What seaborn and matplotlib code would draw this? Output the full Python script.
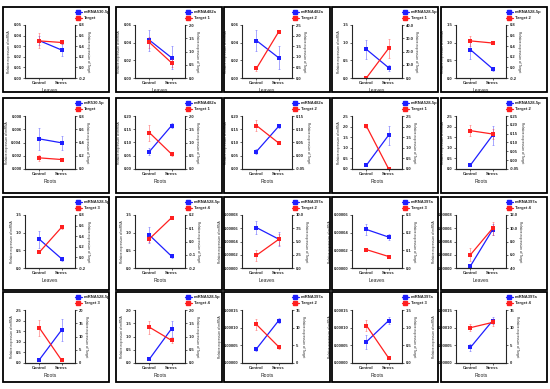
import matplotlib
matplotlib.use("Agg")
import matplotlib.pyplot as plt
from matplotlib.patches import Rectangle
from matplotlib.lines import Line2D
import pandas as pd
import seaborn as sns

sns.set_style("ticks")
plt.rcParams['font.family'] = ['Liberation Sans', 'DejaVu Sans']
plt.rcParams['font.weight'] = 'bold'

W, H = 550, 389
blue = '#1f1fff'
red = '#ff2020'
groups = ["Control", "Stress"]

mirnas = ["miRNA530-5p", "miRNA482a", "miRNA482a", "miRNA528-5p", "miRNA528-5p",
          "miR530-5p", "miRNA482a", "miRNA482a", "miRNA528-5p", "miRNA528-5p",
          "miRNA528-5p", "miRNA528-5p", "miRNA397a", "miRNA397a", "miRNA397a",
          "miRNA528-5p", "miRNA528-5p", "miRNA397a", "miRNA397a", "miRNA397a"]
targets = ["Target", "Target 1", "Target 2", "Target 1", "Target 2",
           "Target", "Target 1", "Target 2", "Target 1", "Target 2",
           "Target 3", "Target 4", "Target 2", "Target 3", "Target 4",
           "Target 3", "Target 4", "Target 2", "Target 3", "Target 4"]
tissues = (["Leaves"] * 5 + ["Roots"] * 5
           + ["Leaves", "Roots", "Leaves", "Leaves", "Leaves"] + ["Roots"] * 5)

left_ticks = [
    ["0.00", "0.01", "0.02", "0.03", "0.04", "0.05"],
    ["0.00", "0.02", "0.04", "0.06"],
    ["0.00", "0.02", "0.04", "0.06"],
    ["0.0", "0.5", "1.0", "1.5"],
    ["0.0", "0.5", "1.0", "1.5"],
    ["0.000", "0.002", "0.004", "0.006", "0.008"],
    ["0.00", "0.05", "0.10", "0.15", "0.20"],
    ["0.00", "0.05", "0.10", "0.15", "0.20"],
    ["0.0", "0.5", "1.0", "1.5", "2.0", "2.5"],
    ["0.0", "0.5", "1.0", "1.5", "2.0", "2.5"],
    ["0.0", "0.5", "1.0", "1.5"],
    ["0.0", "0.5", "1.0", "1.5"],
    ["0.00000", "0.00002", "0.00004", "0.00006", "0.00008"],
    ["0.00000", "0.00002", "0.00004", "0.00006"],
    ["0.00000", "0.00002", "0.00004", "0.00006", "0.00008"],
    ["0.0", "0.5", "1.0", "1.5", "2.0", "2.5"],
    ["0.0", "0.5", "1.0", "1.5", "2.0"],
    ["0.00000", "0.00005", "0.00010", "0.00015"],
    ["0.00000", "0.00005", "0.00010", "0.00015"],
    ["0.00000", "0.00005", "0.00010", "0.00015"],
]
right_ticks = [
    ["-0.2", "0.0", "0.2", "0.4", "0.6", "0.8"],
    ["0.0", "0.5", "1.0", "1.5", "2.0"],
    ["0.0", "0.5", "1.0", "1.5", "2.0", "2.5"],
    ["0.0", "10.0", "20.0", "30.0", "40.0"],
    ["-0.2", "0.0", "0.2", "0.4", "0.6", "0.8"],
    ["0.0", "0.2", "0.4", "0.6", "0.8"],
    ["0.0", "0.5", "1.0", "1.5", "2.0"],
    ["-0.05", "0.00", "0.05", "0.10", "0.15"],
    ["0.0", "0.5", "1.0", "1.5", "2.0", "2.5"],
    ["-0.05", "0.00", "0.05", "0.10", "0.15", "0.20", "0.25"],
    ["-0.2", "0.0", "0.2", "0.4", "0.6", "0.8"],
    ["-0.2", "-0.1", "0.0", "0.1", "0.2"],
    ["0.0", "2.5", "5.0", "7.5", "10.0"],
    ["0.0", "0.1", "0.2", "0.3"],
    ["4.0", "6.0", "8.0", "10.0", "12.0"],
    ["0", "5", "10", "15", "20"],
    ["0.0", "0.5", "1.0", "1.5", "2.0"],
    ["0", "5", "10", "15"],
    ["0.0", "0.5", "1.0", "1.5"],
    ["0", "5", "10", "15"],
]

mir_mean = [[0.0352, 0.0264], [0.0428, 0.0229], [0.0424, 0.0229], [0.81, 0.29], [0.80, 0.26],
            [0.00454, 0.00395], [0.066, 0.164], [0.066, 0.161], [0.18, 1.6], [0.185, 1.6],
            [0.81, 0.26], [0.93, 0.33], [0.000061, 0.0000436], [0.0000436, 0.000035], [0.000003, 0.000058],
            [0.16, 1.56], [0.15, 1.3], [0.00004, 0.00012], [0.00006, 0.00012], [0.000044, 0.00012]]
mir_err = [[0.004, 0.006], [0.012, 0.013], [0.012, 0.013], [0.27, 0.08], [0.25, 0.05],
           [0.0016, 0.0011], [0.015, 0.008], [0.01, 0.008], [0.02, 0.45], [0.02, 0.45],
           [0.25, 0.05], [0.22, 0.05], [0.00001, 0.00001], [0.000006, 0.000003], [0.000003, 0.000008],
           [0.02, 0.5], [0.02, 0.3], [0.000005, 0.000008], [0.00002, 0.00001], [0.00001, 0.00001]]
tar_mean = [[0.50, 0.47], [1.34, 0.57], [0.45, 2.18], [0.1, 22.4], [0.50, 0.46],
            [0.168, 0.143], [1.37, 0.56], [0.114, 0.048], [2.02, 0.0], [0.167, 0.148],
            [0.10, 0.57], [0.02, 0.18], [2.4, 5.4], [0.104, 0.065], [6.0, 10.0],
            [13.2, 1.0], [1.35, 0.85], [10.9, 4.6], [1.06, 0.14], [10.0, 11.5]]
tar_err = [[0.14, 0.02], [0.2, 0.15], [0.1, 0.05], [0.2, 7.0], [0.1, 0.02],
           [0.04, 0.02], [0.3, 0.08], [0.02, 0.005], [0.08, 0.02], [0.03, 0.03],
           [0.02, 0.04], [0.02, 0.01], [1.0, 1.0], [0.01, 0.005], [1.0, 1.0],
           [3.0, 0.4], [0.25, 0.1], [1.5, 0.5], [0.15, 0.03], [1.0, 1.0]]

box_x = [3, 116, 224, 332, 441]
box_w = 106
box_y = [7, 98, 197, 292]
box_h = [85, 95, 93, 90]
ax_off = [22, 19, 18, 20, 15]

fig = plt.figure(figsize=(5.5, 3.89), dpi=100)
fig.patch.set_facecolor('white')

for i in range(20):
    r, c = divmod(i, 5)
    bx, by, bh = box_x[c], box_y[r], box_h[r]
    fig.add_artist(Rectangle((bx / W, 1 - (by + bh) / H), box_w / W, bh / H,
                             transform=fig.transFigure, fill=False, lw=1.3, ec='black'))

    ax = fig.add_axes([(bx + ax_off[c]) / W, 1 - (by + 18 + 53) / H, 50 / W, 53 / H])
    ax2 = ax.twinx()

    df = pd.DataFrame({'grp': [0, 1], 'mir': mir_mean[i], 'tar': tar_mean[i]})

    sns.lineplot(data=df, x='grp', y='mir', ax=ax, color=blue, marker='s',
                 markersize=2.5, markeredgewidth=0, lw=0.9, legend=False)
    ax.errorbar([0, 1], mir_mean[i], yerr=mir_err[i], fmt='none', ecolor=blue,
                alpha=0.45, elinewidth=0.6, capsize=1, capthick=0.5)
    sns.lineplot(data=df, x='grp', y='tar', ax=ax2, color=red, marker='s',
                 markersize=2.5, markeredgewidth=0, lw=0.9, legend=False)
    ax2.errorbar([0, 1], tar_mean[i], yerr=tar_err[i], fmt='none', ecolor=red,
                 alpha=0.45, elinewidth=0.6, capsize=1, capthick=0.5)

    lt = [float(t) for t in left_ticks[i]]
    rt = [float(t) for t in right_ticks[i]]
    ax.set_ylim(lt[0], lt[-1])
    ax.set_yticks(lt)
    ax.set_yticklabels(left_ticks[i])
    ax2.set_ylim(rt[0], rt[-1])
    ax2.set_yticks(rt)
    ax2.set_yticklabels(right_ticks[i])
    ax.set_xlim(-0.65, 1.6)
    ax.set_xticks([0, 1])
    ax.set_xticklabels(groups)

    for a in (ax, ax2):
        a.spines['top'].set_visible(False)
        for s in a.spines.values():
            s.set_linewidth(0.8)
        a.tick_params(labelsize=3, length=1.5, width=0.5, pad=1)
    ax.spines['right'].set_visible(False)
    ax2.spines['left'].set_visible(False)

    ax.set_xlabel(tissues[i], fontsize=3.6, labelpad=2)
    ax.set_ylabel("Relative expression of miRNA", fontsize=2.3, labelpad=1.5)
    ax2.set_ylabel("Relative expression of Target", fontsize=2.3, rotation=270, labelpad=3.5)

    handles = [Line2D([], [], color=blue, marker='s', markersize=2.5, lw=0.9),
               Line2D([], [], color=red, marker='s', markersize=2.5, lw=0.9)]
    fig.legend(handles, [mirnas[i], targets[i]], loc='upper left',
               bbox_to_anchor=((bx + ax_off[c] + 50) / W, 1 - (by + 3) / H),
               fontsize=3.0, frameon=False, handlelength=1.6, handletextpad=0.6,
               labelspacing=0.5, borderpad=0, borderaxespad=0)

fig.savefig("out.png", dpi=100, facecolor='white')
